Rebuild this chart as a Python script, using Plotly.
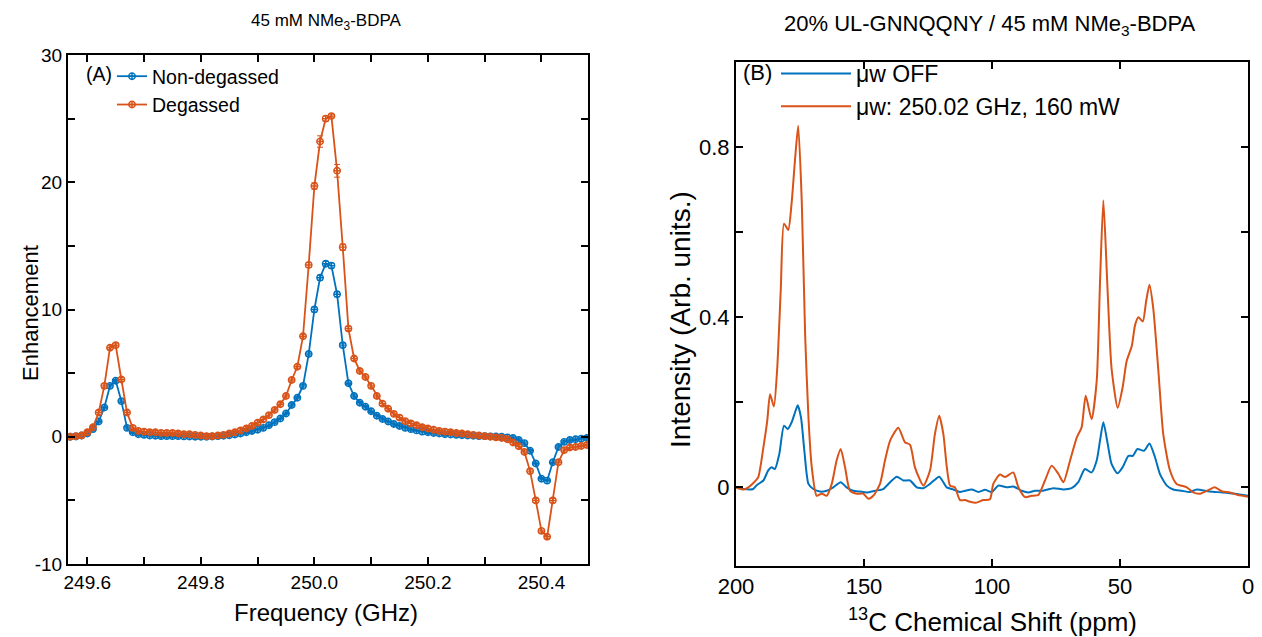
import plotly.graph_objects as go

# ---------------- Panel A data ----------------
freq_ghz = [round(249.57 + 0.01 * i, 3) for i in range(92)]

enh_nondegassed = [0.0, 0.02, 0.1, 0.25, 0.6, 1.2, 2.3, 4.0, 4.4, 2.8,
                   0.7, 0.35, 0.2, 0.15, 0.1, 0.08, 0.05, 0.05, 0.05, 0.05,
                   0.03, 0.02, 0.0, 0.0, 0.0, 0.02, 0.05, 0.08, 0.12, 0.18,
                   0.25, 0.35, 0.45, 0.55, 0.7, 0.9, 1.15, 1.44, 1.83, 2.5,
                   3.07, 4.0, 6.5, 10.0, 12.5, 13.6, 13.45, 11.2, 7.2, 4.2,
                   3.2, 2.67, 2.36, 2.0, 1.65, 1.4, 1.2, 1.0, 0.85, 0.7,
                   0.6, 0.5, 0.4, 0.35, 0.3, 0.25, 0.2, 0.18, 0.15, 0.12,
                   0.1, 0.08, 0.05, 0.05, 0.03, 0.02, 0.0, -0.05, -0.1, -0.25,
                   -0.5, -1.1, -2.1, -3.3, -3.45, -2.0, -0.8, -0.4, -0.26, -0.2,
                   -0.15, -0.1]
err_nondegassed = [0.1] * 42 + [0.15, 0.2, 0.2, 0.2, 0.2, 0.2, 0.15] + [0.1] * 43

enh_degassed = [0.0, 0.05, 0.1, 0.35, 0.75, 1.9, 4.0, 7.0, 7.2, 4.5,
                1.9, 0.7, 0.45, 0.4, 0.35, 0.35, 0.3, 0.3, 0.3, 0.25,
                0.2, 0.2, 0.15, 0.1, 0.05, 0.05, 0.1, 0.15, 0.25, 0.35,
                0.5, 0.65, 0.85, 1.1, 1.35, 1.7, 2.1, 2.55, 3.2, 4.46,
                5.5, 7.9, 13.5, 19.7, 23.2, 25.0, 25.2, 20.9, 14.9, 8.5,
                6.15, 5.17, 4.7, 4.0, 3.2, 2.6, 2.2, 1.8, 1.5, 1.23,
                1.05, 0.9, 0.75, 0.65, 0.55, 0.45, 0.4, 0.35, 0.3, 0.25,
                0.2, 0.15, 0.1, 0.05, 0.0, -0.05, -0.1, -0.2, -0.45, -0.75,
                -1.2, -2.7, -5.0, -7.4, -7.86, -5.0, -2.0, -1.05, -0.85, -0.8,
                -0.73, -0.65]
err_degassed = [0.15] * 42 + [0.2, 0.25, 0.45, 0.2, 0.15, 0.5, 0.25] + [0.15] * 43

# ---------------- Panel B data ----------------
ppm_off = [200, 197.1, 193.3, 191.9, 189.3, 187.4, 186.1, 184.8, 183.1, 181.25,
           179.8, 178.25, 176.95, 175.9, 174.6, 173.3, 171.7, 169.8, 167.2, 164.6,
           162.0, 159.1, 156.8, 154.2, 151.6, 148.9, 145.7, 142.5, 139.8, 137.2,
           134.6, 132.0, 129.4, 126.8, 124.2, 120.6, 117.7, 115.1, 112.5, 110.5,
           107.9, 105.3, 102.7, 100.1, 97.5, 94.3, 91.7, 88.4, 85.8, 83.2,
           80.0, 76.0, 72.1, 68.9, 66.3, 63.7, 61.1, 59.1, 57.8, 56.5,
           54.8, 53.3, 51.0, 49.0, 46.7, 45.0, 43.2, 40.6, 38.5, 36.3,
           34.4, 31.7, 29.2, 25.9, 22.7, 20.0, 15, 10, 5, 0]
int_off = [0.0, -0.004, -0.004, 0.005, 0.016, 0.04, 0.047, 0.043, 0.078, 0.145,
           0.137, 0.153, 0.176, 0.193, 0.164, 0.086, 0.008, -0.004, -0.01, -0.008,
           0.0, 0.012, 0.0, -0.008, -0.01, -0.012, -0.008, -0.004, 0.012, 0.025,
           0.016, 0.016, 0.0, -0.002, 0.008, 0.025, 0.0, -0.005, -0.011, -0.008,
           -0.005, -0.011, -0.006, -0.011, 0.004, 0.0, 0.002, -0.008, -0.012, -0.008,
           -0.008, -0.002, -0.005, -0.002, 0.012, 0.043, 0.035, 0.063, 0.11, 0.153,
           0.102, 0.055, 0.033, 0.047, 0.074, 0.074, 0.09, 0.086, 0.103, 0.07,
           0.031, 0.004, -0.005, -0.008, -0.011, -0.005, -0.01, -0.012, -0.015, -0.02]

ppm_on = [200, 197.1, 195.2, 193.2, 191.3, 189.3, 187.8, 186.7, 185.2, 183.9,
          182.5, 181.25, 179.6, 178.25, 176.95, 175.7, 174.3, 173.0, 171.7, 170.4,
          168.5, 166.5, 164.6, 162.6, 160.7, 159.1, 157.4, 155.5, 152.9, 150.3,
          148.3, 146.4, 143.75, 141.8, 139.8, 136.6, 134.0, 132.0, 130.1, 126.8,
          124.2, 122.3, 120.6, 119.0, 117.7, 116.4, 114.5, 112.5, 110.5, 108.6,
          106.0, 103.4, 100.8, 99.5, 96.9, 94.9, 91.7, 89.7, 87.1, 84.5,
          81.9, 79.3, 76.7, 74.1, 72.1, 69.5, 66.9, 65.0, 63.4, 61.1,
          59.1, 57.8, 56.5, 55.0, 53.3, 50.9, 49.0, 47.4, 45.4, 44.1,
          42.8, 41.1, 39.8, 38.5, 37.0, 35.0, 33.1, 30.5, 27.9, 23.9,
          21.4, 18.75, 15, 13, 10, 7, 4, 2, 0]
int_on = [0.0, -0.005, 0.0, 0.01, 0.024, 0.094, 0.156, 0.219, 0.19, 0.28,
          0.467, 0.62, 0.605, 0.67, 0.77, 0.85, 0.67, 0.36, 0.164, 0.047,
          -0.02, -0.015, -0.02, 0.008, 0.063, 0.09, 0.047, -0.008, -0.015, -0.015,
          -0.027, -0.02, 0.008, 0.063, 0.11, 0.14, 0.106, 0.1, 0.047, 0.004,
          0.04, 0.125, 0.168, 0.125, 0.05, 0.004, 0.0, -0.03, -0.03, -0.034,
          -0.036, -0.03, -0.028, 0.008, 0.03, 0.024, 0.035, 0.0, -0.023, -0.02,
          -0.018, 0.016, 0.051, 0.032, 0.012, 0.063, 0.117, 0.141, 0.215, 0.16,
          0.25, 0.484, 0.675, 0.484, 0.28, 0.187, 0.234, 0.297, 0.332, 0.382,
          0.40, 0.39, 0.437, 0.476, 0.42, 0.273, 0.125, 0.04, 0.008, 0.0,
          -0.012, -0.015, -0.005, 0.0, -0.01, -0.012, -0.018, -0.02, -0.022]

# ---------------- Ticks ----------------
a_xticks = [249.6, 249.7, 249.8, 249.9, 250.0, 250.1, 250.2, 250.3, 250.4]
a_xlabels = ["249.6", "", "249.8", "", "250.0", "", "250.2", "", "250.4"]
a_yticks = [-10, -5, 0, 5, 10, 15, 20, 25, 30]
a_ylabels = ["-10", "", "0", "", "10", "", "20", "", "30"]
b_xticks = [200, 150, 100, 50, 0]
b_xlabels = ["200", "150", "100", "50", "0"]
b_yticks = [0, 0.2, 0.4, 0.6, 0.8]
b_ylabels = ["0", "", "0.4", "", "0.8"]

BLUE = "#0072BD"
ORANGE = "#D95319"
FONT = "Liberation Sans, Arial, Helvetica, sans-serif"
W, H = 1262, 637

fig = go.Figure()

fig.add_trace(go.Scatter(
    x=freq_ghz, y=enh_nondegassed, name="Non-degassed", mode="lines+markers",
    legendgroup="a1",
    line=dict(color=BLUE, width=1.8),
    marker=dict(symbol="circle-cross-open", size=6.5, color=BLUE, line=dict(width=1.4, color=BLUE)),
    error_y=dict(type="data", array=err_nondegassed, color=BLUE, thickness=1, width=3),
    xaxis="x", yaxis="y", legend="legend"))
fig.add_trace(go.Scatter(
    x=freq_ghz, y=enh_degassed, name="Degassed", mode="lines+markers",
    legendgroup="a2",
    line=dict(color=ORANGE, width=1.8),
    marker=dict(symbol="circle-cross-open", size=6.5, color=ORANGE, line=dict(width=1.4, color=ORANGE)),
    error_y=dict(type="data", array=err_degassed, color=ORANGE, thickness=1, width=3),
    xaxis="x", yaxis="y", legend="legend"))

fig.add_trace(go.Scatter(
    x=ppm_off, y=int_off, name="μw OFF", mode="lines", legendgroup="b1",
    line=dict(color=BLUE, width=2, shape="spline", smoothing=0.6),
    xaxis="x2", yaxis="y2", legend="legend2"))
fig.add_trace(go.Scatter(
    x=ppm_on, y=int_on, name="μw: 250.02 GHz, 160 mW", mode="lines", legendgroup="b2",
    line=dict(color=ORANGE, width=2, shape="spline", smoothing=0.6),
    xaxis="x2", yaxis="y2", legend="legend2"))

def px_x(p):
    return p / W

def px_y(p):
    return 1 - p / H

def axis_style(tick_size):
    return dict(showline=True, linecolor="black", linewidth=2, mirror="ticks",
                ticks="inside", ticklen=7, tickwidth=1.5, tickcolor="black",
                showgrid=False, zeroline=False, automargin=False,
                tickfont=dict(family=FONT, size=tick_size, color="black"))

fig.update_layout(
    width=W, height=H,
    margin=dict(l=0, r=0, t=0, b=0),
    plot_bgcolor="white", paper_bgcolor="white",
    font=dict(family=FONT, color="black"),
    xaxis=dict(domain=[px_x(68), px_x(588)], range=[249.566, 250.482],
               tickmode="array", tickvals=a_xticks, ticktext=a_xlabels,
               anchor="y", **axis_style(19)),
    yaxis=dict(domain=[px_y(564), px_y(55)], range=[-10, 30],
               tickmode="array", tickvals=a_yticks, ticktext=a_ylabels,
               anchor="x", **axis_style(19)),
    xaxis2=dict(domain=[px_x(736), px_x(1248)], range=[200, 0],
                tickmode="array", tickvals=b_xticks, ticktext=b_xlabels,
                anchor="y2", **axis_style(22)),
    yaxis2=dict(domain=[px_y(566), px_y(62)], range=[-0.185, 1.0],
                tickmode="array", tickvals=b_yticks, ticktext=b_ylabels,
                anchor="x2", **axis_style(22)),
    legend=dict(x=px_x(112), y=px_y(57), xanchor="left", yanchor="top",
                bgcolor="rgba(0,0,0,0)", font=dict(family=FONT, size=19.5, color="black"),
                tracegroupgap=0),
    legend2=dict(x=px_x(776), y=px_y(52), xanchor="left", yanchor="top",
                 bgcolor="rgba(0,0,0,0)", font=dict(family=FONT, size=23, color="black"),
                 tracegroupgap=0, itemwidth=70),
    showlegend=True,
)

annotations = [
    dict(text="45 mM NMe<sub>3</sub>-BDPA", x=px_x(326), y=px_y(22), size=17),
    dict(text="20% UL-GNNQQNY / 45 mM NMe<sub>3</sub>-BDPA", x=px_x(990), y=px_y(25), size=22),
    dict(text="Frequency (GHz)", x=px_x(326), y=px_y(612), size=24),
    dict(text="<sup>13</sup>C Chemical Shift (ppm)", x=px_x(992), y=px_y(620), size=26),
    dict(text="(A)", x=px_x(99), y=px_y(74), size=19.5),
    dict(text="(B)", x=px_x(757), y=px_y(73), size=22),
]
for a in annotations:
    fig.add_annotation(text=a["text"], x=a["x"], y=a["y"], xref="paper", yref="paper",
                       showarrow=False, xanchor="center", yanchor="middle",
                       font=dict(family=FONT, size=a["size"], color="black"))

fig.add_annotation(text="Enhancement", x=px_x(30), y=px_y(313), xref="paper", yref="paper",
                   showarrow=False, textangle=-90, xanchor="center", yanchor="middle",
                   font=dict(family=FONT, size=22, color="black"))
fig.add_annotation(text="Intensity (Arb. units.)", x=px_x(680), y=px_y(320), xref="paper", yref="paper",
                   showarrow=False, textangle=-90, xanchor="center", yanchor="middle",
                   font=dict(family=FONT, size=28, color="black"))

fig.write_html("out.html", config={"displayModeBar": False},
               post_script="document.body.style.margin='0px';document.body.style.overflow='hidden';")
